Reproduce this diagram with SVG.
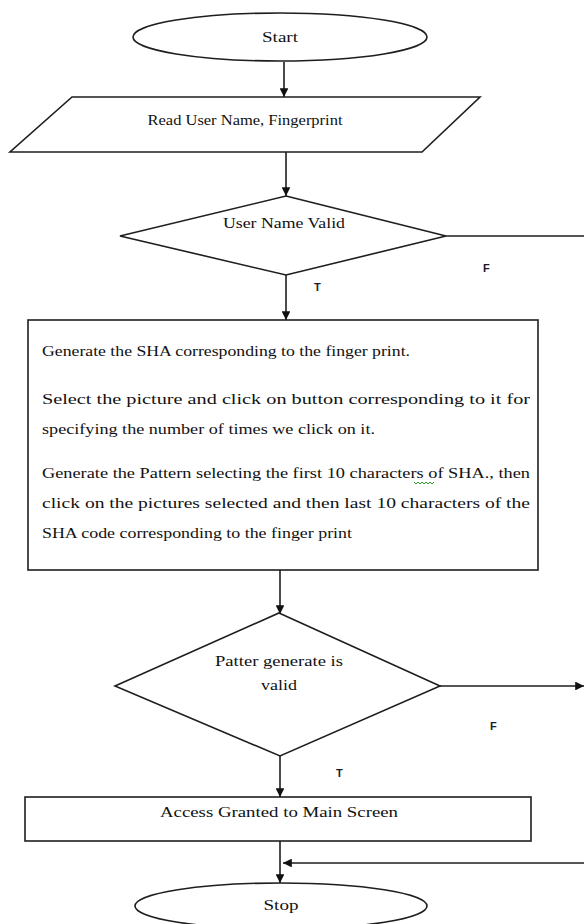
<svg xmlns="http://www.w3.org/2000/svg" width="584" height="924" viewBox="0 0 584 924">
<style>
.shape{fill:#fff;stroke:#1e1e1e;stroke-width:1.6}
.ln{fill:none;stroke:#1e1e1e;stroke-width:1.6}
.t{font-family:"Liberation Serif","Times New Roman",serif;font-size:14px;fill:#111}
.tc{text-anchor:middle}
.lbl{font-family:"Liberation Sans",Arial,sans-serif;font-size:11px;font-weight:bold;fill:#1a1a2a}
</style>
<defs>
<marker id="ah" viewBox="0 0 10 10" refX="10" refY="5" markerWidth="5.5" markerHeight="5.5" orient="auto" markerUnits="strokeWidth">
<path d="M0,0 L10,5 L0,10 z" fill="#111"/>
</marker>
</defs>
<rect width="584" height="924" fill="#fff"/>
<g id="connectors">
<line class="ln" x1="284" y1="62" x2="284" y2="97" marker-end="url(#ah)"/>
<line class="ln" x1="286" y1="152" x2="286" y2="196" marker-end="url(#ah)"/>
<line class="ln" x1="446" y1="236" x2="584" y2="236"/>
<line class="ln" x1="286" y1="275" x2="286" y2="320" marker-end="url(#ah)"/>
<line class="ln" x1="280" y1="570" x2="280" y2="614" marker-end="url(#ah)"/>
<line class="ln" x1="440" y1="686" x2="584" y2="686" marker-end="url(#ah)"/>
<line class="ln" x1="280" y1="756" x2="280" y2="797" marker-end="url(#ah)"/>
<line class="ln" x1="280" y1="841" x2="280" y2="883" marker-end="url(#ah)"/>
<line class="ln" x1="584" y1="863" x2="283" y2="863" marker-end="url(#ah)"/>
<text class="lbl" x="483" y="272">F</text>
<text class="lbl" x="314" y="291">T</text>
<text class="lbl" x="490" y="730">F</text>
<text class="lbl" x="336" y="777">T</text>
</g>
<g id="start">
<ellipse class="shape" cx="280" cy="37" rx="147" ry="24"/>
<text class="t tc" x="280" y="42" textLength="36" lengthAdjust="spacingAndGlyphs">Start</text>
</g>
<g id="read">
<polygon class="shape" points="72,97 480,97 422,152 10,152"/>
<text class="t tc" x="245" y="125" textLength="195" lengthAdjust="spacingAndGlyphs">Read User Name, Fingerprint</text>
</g>
<g id="valid-user">
<polygon class="shape" points="286,196 446,236 286,275 120,236"/>
<text class="t tc" x="284" y="228" textLength="122" lengthAdjust="spacingAndGlyphs">User Name Valid</text>
</g>
<g id="process">
<rect class="shape" x="28" y="320" width="510" height="250"/>
<text class="t" x="42" y="356" textLength="368" lengthAdjust="spacingAndGlyphs">Generate the SHA corresponding to the finger print.</text>
<text class="t" x="42" y="404" textLength="488" lengthAdjust="spacingAndGlyphs">Select the picture and click on button corresponding to it for</text>
<text class="t" x="42" y="434" textLength="333" lengthAdjust="spacingAndGlyphs">specifying the number of times we click on it.</text>
<text class="t" x="42" y="478" textLength="488" lengthAdjust="spacingAndGlyphs">Generate the Pattern selecting the first 10 characters of SHA., then</text>
<path d="M414,482 l2,2 l2,-2 l2,2 l2,-2 l2,2 l2,-2 l2,2 l2,-2 l2,2 l2,-2" fill="none" stroke="#2a9a2a" stroke-width="1"/>
<text class="t" x="42" y="508" textLength="488" lengthAdjust="spacingAndGlyphs">click on the pictures selected  and then last 10 characters of the</text>
<text class="t" x="42" y="538" textLength="310" lengthAdjust="spacingAndGlyphs">SHA code corresponding to the finger print</text>
</g>
<g id="valid-pattern">
<polygon class="shape" points="279,613 440,686 280,756 115,686"/>
<text class="t tc" x="279" y="666" textLength="128" lengthAdjust="spacingAndGlyphs">Patter generate is</text>
<text class="t tc" x="279" y="690" textLength="36" lengthAdjust="spacingAndGlyphs">valid</text>
</g>
<g id="access">
<rect class="shape" x="25" y="797" width="506" height="44"/>
<text class="t tc" x="279" y="817" textLength="238" lengthAdjust="spacingAndGlyphs">Access Granted to Main Screen</text>
</g>
<g id="stop">
<ellipse class="shape" cx="281" cy="906" rx="146" ry="23"/>
<text class="t tc" x="281" y="910" textLength="35" lengthAdjust="spacingAndGlyphs">Stop</text>
</g>
</svg>
